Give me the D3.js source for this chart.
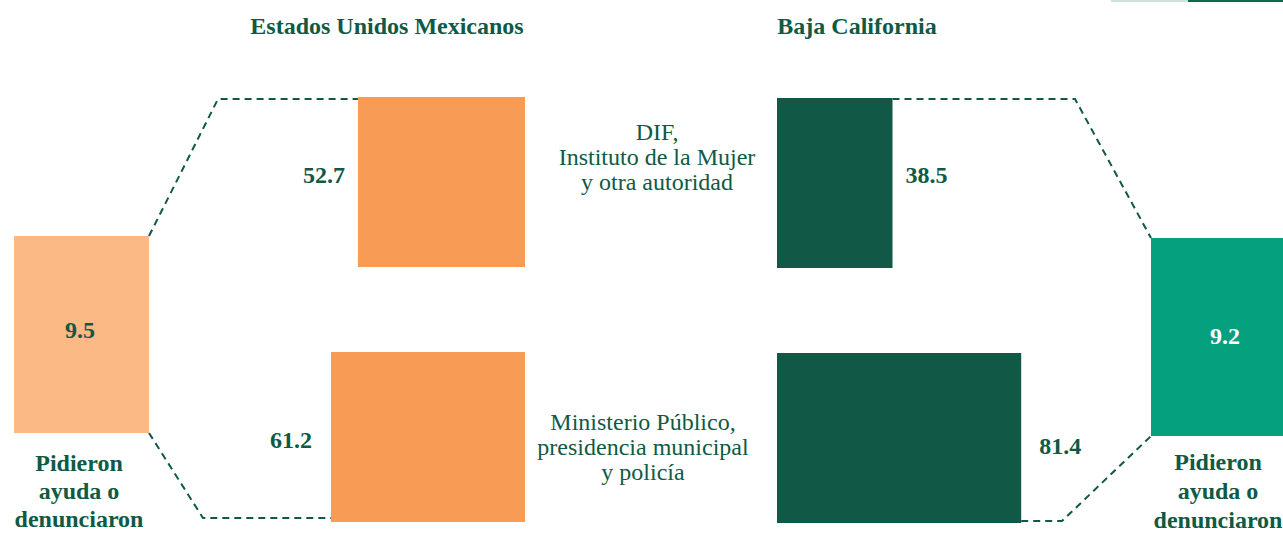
<!DOCTYPE html>
<html><head><meta charset="utf-8">
<script src="https://cdn.jsdelivr.net/npm/d3@7"></script>
<style>html,body{margin:0;padding:0;background:#fff;}svg{display:block;}</style>
</head><body>
<svg id="c" width="1283" height="534"></svg>
<script>
const regions = ["Estados Unidos Mexicanos", "Baja California"];
const categories = ["DIF,|Instituto de la Mujer|y otra autoridad", "Ministerio Público,|presidencia municipal|y policía"];
const nationalValues = [52.7, 61.2];
const bcValues = [38.5, 81.4];
const totals = [9.5, 9.2];
const totalLabel = ["Pidieron", "ayuda o", "denunciaron"];

const svg = d3.select("#c");
const dark = "#115846", textCol = "#0e5a45", orange = "#f79b55", lightOrange = "#fbba85", teal = "#05a07e";
const font = "'Liberation Serif', 'Times New Roman', serif";
const fs = 24;

// top-right decorative strip
svg.append("rect").attr("x",1111).attr("y",0).attr("width",77).attr("height",2).attr("fill","#cfe2da");
svg.append("rect").attr("x",1188).attr("y",0).attr("width",95).attr("height",2).attr("fill","#0b6b50");

const y = d3.scaleBand().domain(categories).range([97, 522]).paddingInner(1/3).paddingOuter(0);
const xNat = d3.scaleLinear().domain([0, 100]).range([0, 317]);
const xBC = d3.scaleLinear().domain([0, 100]).range([0, 300]);
const natRight = 525, bcLeft = 777;

// titles
svg.selectAll("text.title").data(regions).join("text")
  .attr("x", (d,i)=> i===0 ? 387 : 857).attr("y", 26)
  .attr("dominant-baseline","central")
  .attr("text-anchor","middle").attr("font-family",font).attr("font-weight","bold")
  .attr("font-size",fs).attr("fill",textCol).text(d=>d);

// dashed connectors
const dash = "7,5";
function dline(pts){
  svg.append("path").attr("d", d3.line()(pts)).attr("fill","none")
    .attr("stroke",dark).attr("stroke-width",2).attr("stroke-dasharray",dash);
}
dline([[149,236],[218,99],[natRight - xNat(nationalValues[0]), 99]]);
dline([[149,433],[203,518],[natRight - xNat(nationalValues[1]), 518]]);
dline([[bcLeft + xBC(bcValues[0]), 99],[1075,99],[1151,238]]);
dline([[bcLeft + xBC(bcValues[1]), 521],[1062,521],[1151,436]]);

// national bars
svg.selectAll("rect.nat").data(nationalValues).join("rect")
  .attr("x", d=> natRight - xNat(d)).attr("y",(d,i)=>y(categories[i]))
  .attr("width", d=>xNat(d)).attr("height", y.bandwidth()).attr("fill",orange);
// BC bars
svg.selectAll("rect.bc").data(bcValues).join("rect")
  .attr("x", bcLeft).attr("y",(d,i)=>y(categories[i])+1)
  .attr("width", d=>xBC(d)).attr("height", y.bandwidth()).attr("fill",dark);

const labelDy = [-7, 3];
svg.selectAll("text.natv").data(nationalValues).join("text")
  .attr("x", d=> natRight - xNat(d) - 13 - (d>60?6:0))
  .attr("y",(d,i)=>y(categories[i]) + y.bandwidth()/2 + labelDy[i])
  .attr("dominant-baseline","central").attr("text-anchor","end")
  .attr("font-family",font).attr("font-weight","bold").attr("font-size",fs).attr("fill",textCol)
  .text(d=>d.toFixed(1));
svg.selectAll("text.bcv").data(bcValues).join("text")
  .attr("x", d=> bcLeft + xBC(d) + 13 + (d>60?5:0))
  .attr("y",(d,i)=>y(categories[i]) + y.bandwidth()/2 + labelDy[i] + (i===1?6:0))
  .attr("dominant-baseline","central").attr("text-anchor","start")
  .attr("font-family",font).attr("font-weight","bold").attr("font-size",fs).attr("fill",textCol)
  .text(d=>d.toFixed(1));

// category labels
categories.forEach((c,i)=>{
  const lines = c.split("|");
  const cx = i===0 ? 657 : 643, cy = i===0 ? 157 : 447;
  const t = svg.append("text").attr("text-anchor","middle").attr("font-family",font)
    .attr("font-size",fs).attr("fill",textCol);
  lines.forEach((l,j)=>{
    t.append("tspan").attr("x",cx).attr("y", cy + (j-1)*25).attr("dominant-baseline","central").text(l);
  });
});

// total boxes
const boxes = [{x:14,y:236,w:135,h:197,fill:lightOrange,tc:textCol,tx:80,ty:330,lx:79,ly:463,step:28},
               {x:1151,y:238,w:135,h:198,fill:teal,tc:"#ffffff",tx:1225,ty:336,lx:1218,ly:462,step:29}];
totals.forEach((v,i)=>{
  const b = boxes[i];
  svg.append("rect").attr("x",b.x).attr("y",b.y).attr("width",b.w).attr("height",b.h).attr("fill",b.fill);
  svg.append("text").attr("x",b.tx).attr("y",b.ty).attr("text-anchor","middle").attr("dominant-baseline","central")
    .attr("font-family",font).attr("font-weight","bold").attr("font-size",fs).attr("fill",b.tc).text(v.toFixed(1));
  const t = svg.append("text").attr("text-anchor","middle").attr("font-family",font).attr("font-weight","bold")
    .attr("font-size",fs).attr("fill",textCol);
  totalLabel.forEach((l,j)=>{
    t.append("tspan").attr("x",b.lx).attr("y",b.ly + j*b.step).attr("dominant-baseline","central").text(l);
  });
});
</script>
</body></html>
